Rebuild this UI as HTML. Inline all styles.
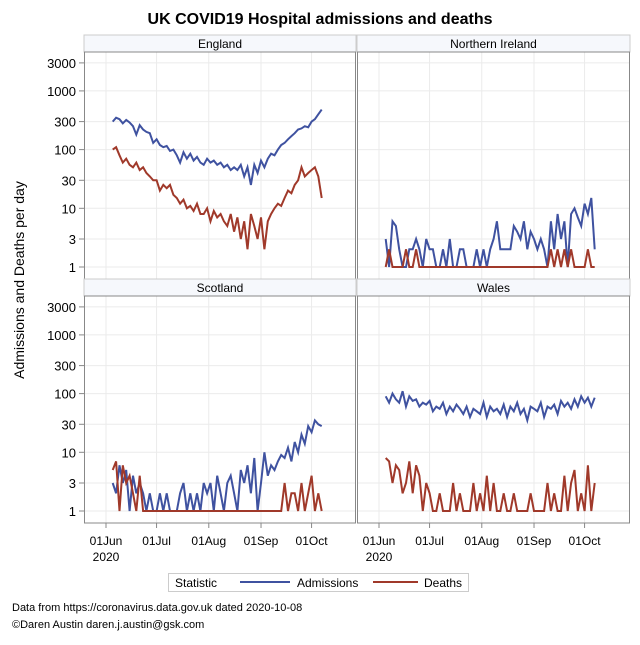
<!DOCTYPE html>
<html><head><meta charset="utf-8"><style>
body{margin:0;background:#fff;width:640px;height:640px;overflow:hidden}
svg{font-family:"Liberation Sans",Arial,sans-serif}
</style></head><body>
<svg id="c" width="640" height="640">
<text x="320" y="24" text-anchor="middle" font-size="16" font-weight="bold">UK COVID19 Hospital admissions and deaths</text>
<text transform="translate(24,280) rotate(-90)" text-anchor="middle" font-size="14">Admissions and Deaths per day</text>
<g id="panels"></g>
<g>
<rect x="168.5" y="573.5" width="300" height="18" fill="#fff" stroke="#ccc"/>
<text x="175" y="587" font-size="12">Statistic</text>
<line x1="240" y1="582" x2="290" y2="582" stroke="#3f52a0" stroke-width="2"/>
<text x="297" y="587" font-size="12">Admissions</text>
<line x1="373" y1="582" x2="418" y2="582" stroke="#a0392a" stroke-width="2"/>
<text x="424" y="587" font-size="12">Deaths</text>
</g>
<text x="12" y="611" font-size="11">Data from https://coronavirus.data.gov.uk dated 2020-10-08</text>
<text x="12" y="628" font-size="11">©Daren Austin daren.j.austin@gsk.com</text>
</svg>
<script>
const days=[4,6,8,10,12,14,16,18,20,22,24,26,28,30,32,34,36,38,40,42,44,46,48,50,52,54,56,58,60,62,64,66,68,70,72,74,76,78,80,82,84,86,88,90,92,94,96,98,100,102,104,106,108,110,112,114,116,118,120,122,124,126,128];
const engAdm=[300,350,330,280,320,290,250,180,260,220,200,190,130,150,120,110,115,95,100,80,60,90,70,85,65,75,60,55,70,60,65,55,60,50,55,45,50,45,55,35,50,25,55,40,65,50,70,85,80,100,120,130,150,170,190,220,230,250,240,300,330,400,480];
const engDth=[100,110,80,60,70,55,50,60,45,50,40,35,30,30,20,25,22,25,17,15,12,14,10,11,9,12,8,8,10,6,9,7,8,6,5,8,4,7,3,6,2,8,5,3,7,2,6,8,10,12,11,15,20,18,25,30,50,35,40,45,50,35,15];
const niAdm=[3,1,6,5,2,1,1,2,2,3,2,1,3,2,2,1,1,2,1,3,1,1,2,2,1,1,1,2,1,2,1,2,3,6,2,2,2,2,5,4,3,6,2,4,3,2,3,2,1,6,2,8,3,6,1,8,10,7,5,12,8,15,2];
const niDth=[1,2,1,1,1,1,2,1,1,2,1,1,1,1,1,1,1,1,1,1,1,1,1,1,1,1,1,1,1,1,1,1,1,1,1,1,1,1,1,1,1,1,1,1,1,1,1,1,1,2,1,2,1,2,1,2,1,1,1,1,2,1,1];
const scoAdm=[3,2,6,3,5,1,4,2,3,2,1,2,1,1,2,1,2,1,1,1,2,3,1,2,1,2,1,3,2,3,1,4,2,1,3,4,2,1,5,3,6,2,8,1,3,10,4,6,5,7,9,8,12,7,15,10,20,14,28,22,35,30,28];
const scoDth=[5,7,1,6,3,4,2,1,4,1,1,1,1,1,1,1,1,1,1,1,1,1,1,1,1,1,1,1,1,1,1,1,1,1,1,1,1,1,1,1,1,1,1,1,1,1,1,1,1,1,1,3,1,2,2,1,3,1,2,4,1,2,1];
const walAdm=[90,70,100,80,70,110,60,90,75,80,60,70,65,75,50,60,55,70,45,60,50,65,55,45,60,40,55,50,45,70,40,60,50,55,45,65,40,60,50,70,45,55,35,60,55,50,70,40,60,55,65,45,75,60,70,55,80,60,90,70,85,60,85];
const walDth=[8,7,3,6,5,2,3,7,2,6,4,1,3,2,1,1,2,1,1,1,3,1,2,1,1,1,3,1,2,1,4,1,3,1,1,2,1,1,2,1,1,1,1,2,1,1,1,1,3,1,2,1,1,4,1,3,5,1,2,1,6,1,3];
const yTicks=[1,3,10,30,100,300,1000,3000];
const xTicks=[0,30,61,92,122];
const xLabels=["01Jun","01Jul","01Aug","01Sep","01Oct"];
const panelNames=["England","Northern Ireland","Scotland","Wales"];
const NS="http://www.w3.org/2000/svg";
const g=document.getElementById('panels');
function mk(t,a,p){const e=document.createElementNS(NS,t);for(const k in a)e.setAttribute(k,a[k]);(p||g).appendChild(e);return e;}
const panels=[{x0:84,x1:356,top:35,adm:engAdm,dth:engDth},{x0:357,x1:630,top:35,adm:niAdm,dth:niDth},{x0:84,x1:356,top:279,adm:scoAdm,dth:scoDth},{x0:357,x1:630,top:279,adm:walAdm,dth:walDth}];
panels.forEach((p,i)=>{
  const hb=p.top+17, pb=p.top+244;
  const xs=d=>p.x0+22+d*1.685;
  const ys=v=>(pb-12)-Math.log10(v)*58.7;
  const grp=mk('g',{});
  
  
  mk('rect',{x:p.x0,y:p.top,width:p.x1-p.x0,height:17,fill:'#f6f8fc',stroke:'#ccc'},grp);
  const ht=mk('text',{x:(p.x0+p.x1)/2,y:p.top+13,'text-anchor':'middle','font-size':12},grp);
  ht.textContent=panelNames[i];
  
  
  yTicks.forEach(v=>mk('line',{x1:p.x0,x2:p.x1,y1:ys(v),y2:ys(v),stroke:'#ebebeb'},grp));
  xTicks.forEach(d=>mk('line',{x1:xs(d),x2:xs(d),y1:hb,y2:pb,stroke:'#ebebeb'},grp));
  [[p.adm,'#3f52a0','admissions'],[p.dth,'#a0392a','deaths']].forEach(([arr,c,n])=>{
    const pl=mk('polyline',{points:arr.map((v,j)=>xs(days[j]).toFixed(1)+','+ys(v).toFixed(1)).join(' '),fill:'none',stroke:c,'stroke-width':2},grp);
    
    
  });
  mk('rect',{x:p.x0+0.5,y:hb,width:p.x1-p.x0-1,height:pb-hb,fill:'none',stroke:'#888'},grp);
  if(p.x0===84){
    yTicks.forEach(v=>{
      mk('line',{x1:p.x0-5,x2:p.x0,y1:ys(v),y2:ys(v),stroke:'#888'},grp);
      const t=mk('text',{x:p.x0-8,y:ys(v)+5,'text-anchor':'end','font-size':13},grp);
      t.textContent=v;
      
      
    });
  }
  if(p.top===279){
    xTicks.forEach((d,k)=>{
      mk('line',{x1:xs(d),x2:xs(d),y1:pb,y2:pb+5,stroke:'#888'},grp);
      const t=mk('text',{x:xs(d),y:pb+22,'text-anchor':'middle','font-size':12},grp);
      t.textContent=xLabels[k];
      
      
      if(k===0){const t2=mk('text',{x:xs(d),y:pb+38,'text-anchor':'middle','font-size':12},grp);t2.textContent='2020';}
    });
  }
});
</script>
</body></html>
